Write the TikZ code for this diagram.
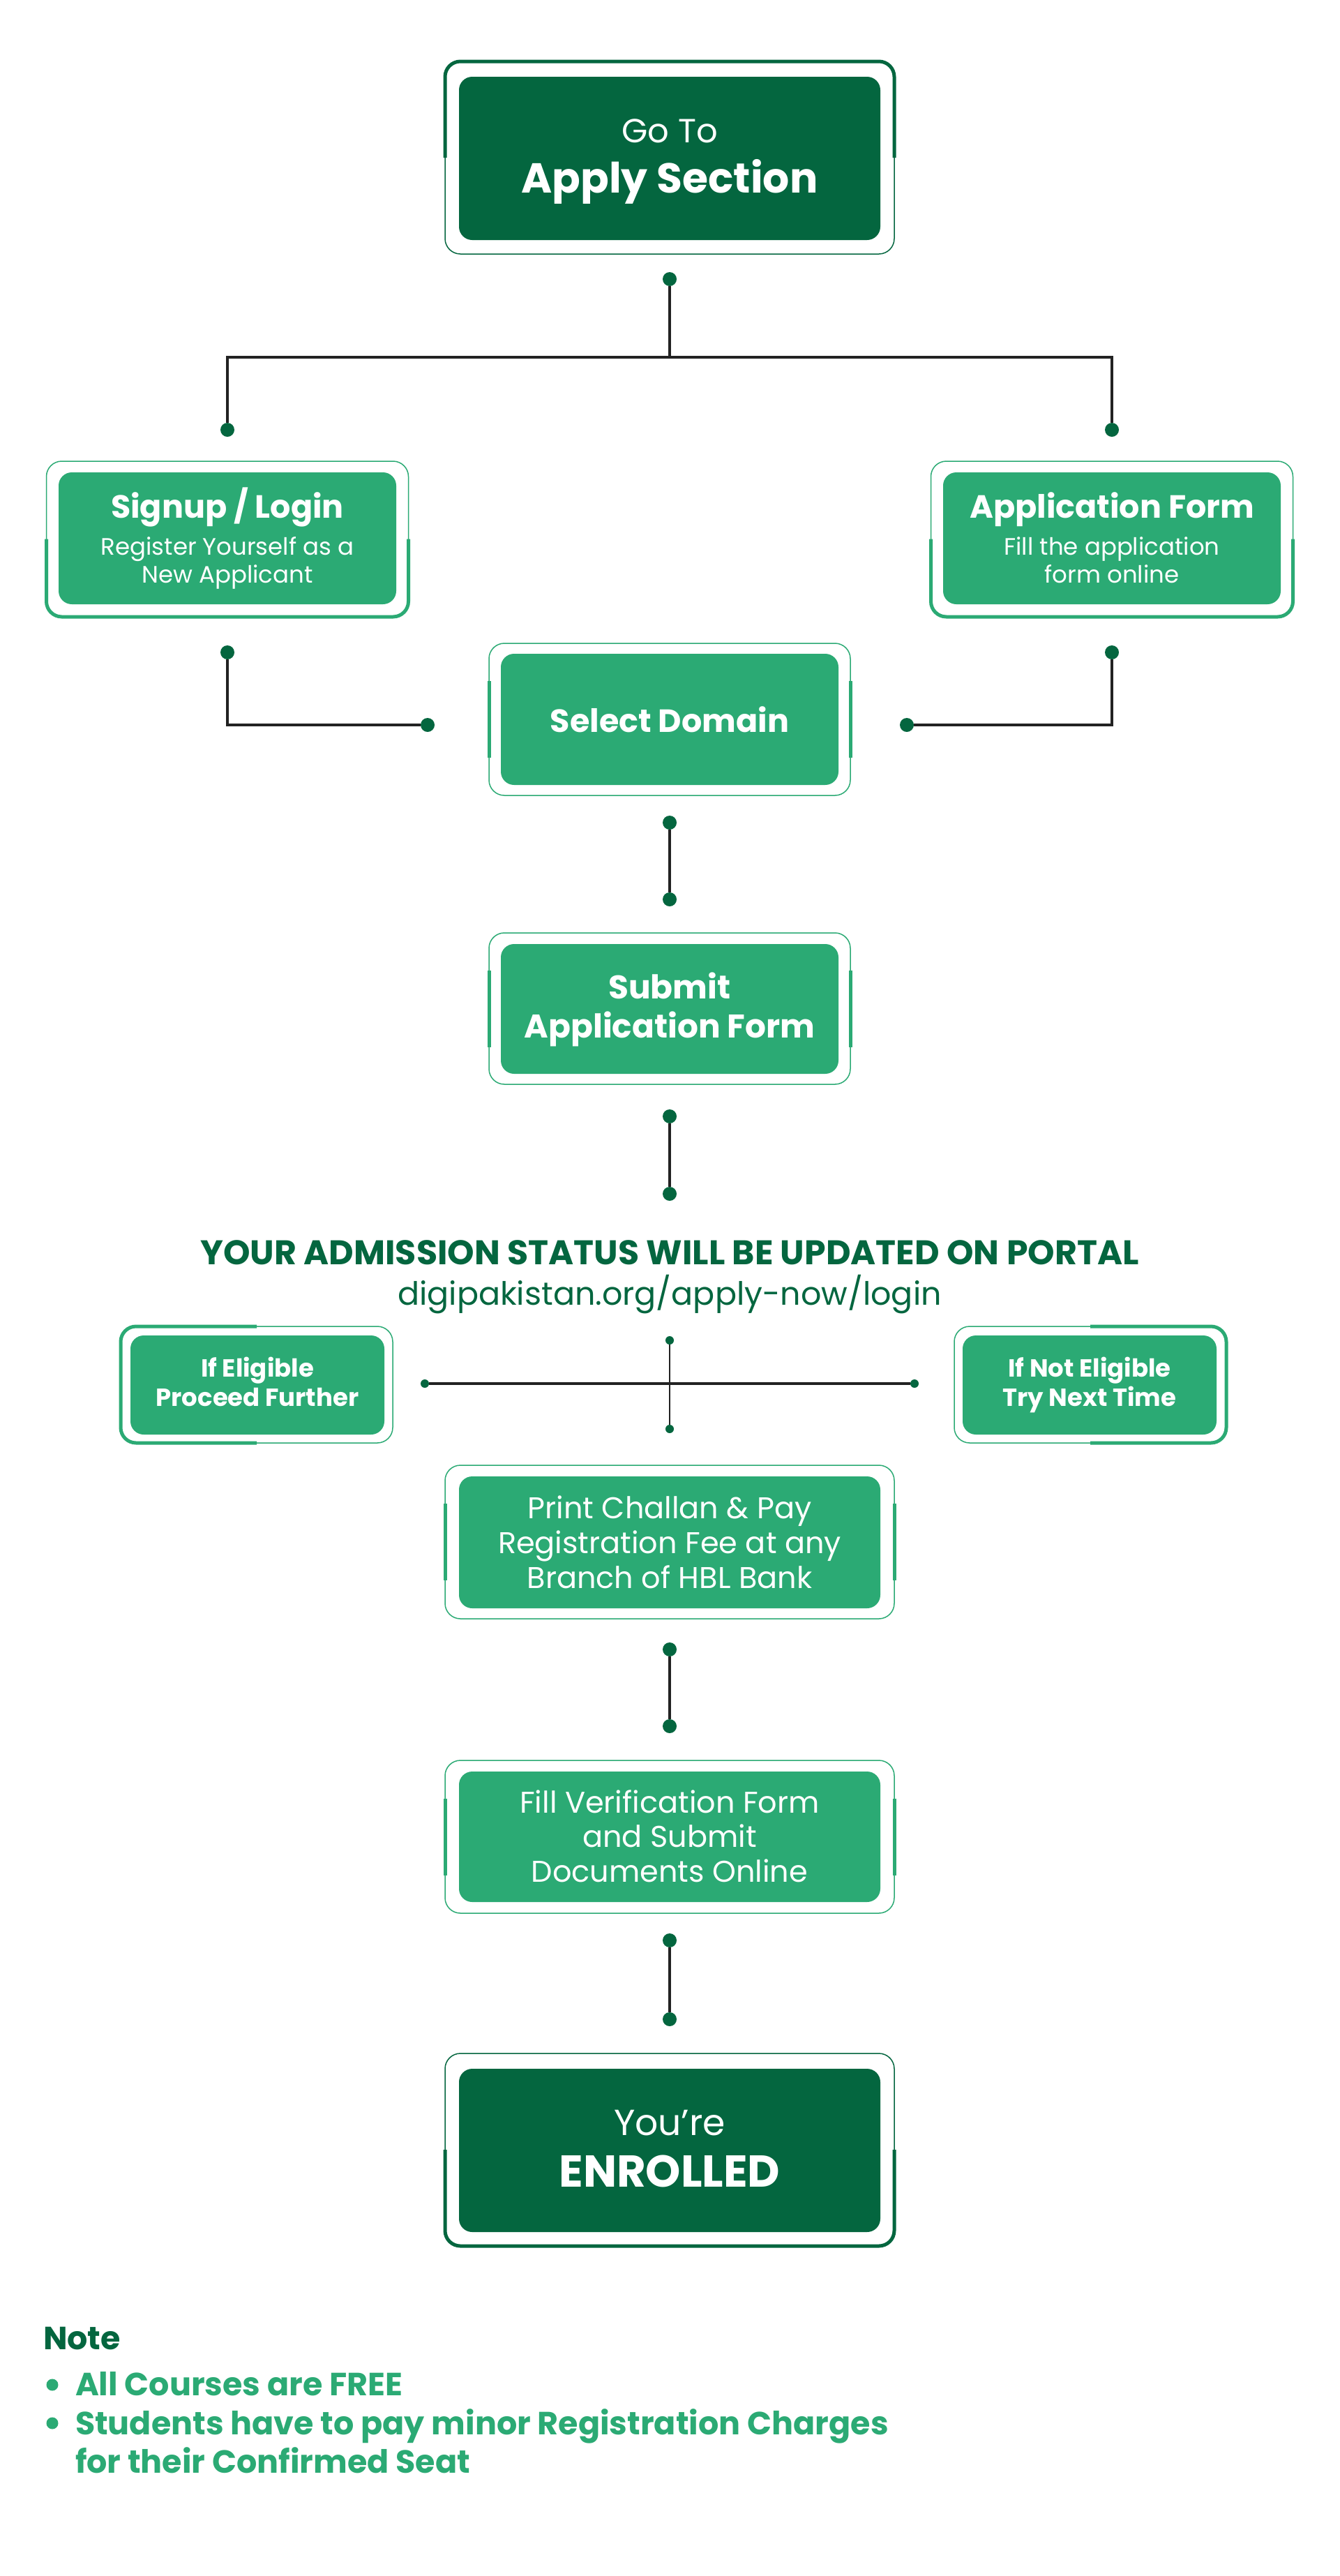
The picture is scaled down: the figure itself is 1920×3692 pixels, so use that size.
\documentclass[tikz,border=0pt]{standalone}
\usepackage{fontspec}
\setmainfont{Poppins}
\definecolor{dkgreen}{HTML}{04663F}
\definecolor{mdgreen}{HTML}{2BAA74}
\definecolor{lnk}{HTML}{222222}
\newcommand{\myfs}[1]{\fontsize{#1}{#1}\selectfont}
\begin{document}
\begin{tikzpicture}[x=1pt,y=-1pt,
  frame/.style={draw=#1, line width=1.5pt, rounded corners=22pt, inner sep=0pt, outer sep=0pt},
  frthick/.style={draw=#1, line width=5pt, rounded corners=22pt},
  accent/.style={draw=mdgreen, line width=5pt},
  panel/.style={fill=#1, rounded corners=19pt, inner sep=0pt, outer sep=0pt},
  dot/.style={circle, fill=dkgreen, minimum size=20pt, inner sep=0pt, outer sep=0pt},
  sdot/.style={circle, fill=dkgreen, minimum size=12pt, inner sep=0pt, outer sep=0pt},
  bdot/.style={circle, fill=mdgreen, minimum size=17pt, inner sep=0pt, outer sep=0pt},
  conn/.style={draw=lnk, line width=3.5pt},
  wt/.style={anchor=base, inner sep=0pt, outer sep=0pt, text=white},
  gt/.style={anchor=base, inner sep=0pt, outer sep=0pt, text=dkgreen},
  nt/.style={anchor=base west, inner sep=0pt, outer sep=0pt, text=mdgreen, font=\bfseries\myfs{46}},
]
\useasboundingbox (0,0) rectangle (1920,3692);
\fill[white] (0,0) rectangle (1920,3692);

% ---------- Go To Apply Section ----------
\node[frame=dkgreen, minimum width=644pt, minimum height=276pt] (applyF) at (960,226) {};
\draw[frthick=dkgreen] (applyF.west) |- (applyF.north) -| (applyF.east);
\node[panel=dkgreen, minimum width=604pt, minimum height=234pt] (apply) at (960,227) {};
\node[wt, font=\myfs{48}] (applyT1) at (960,204) {Go To};
\node[wt, font=\bfseries\myfs{60}] (applyT2) at (960,276) {Apply Section};

% ---------- Signup / Login ----------
\node[frame=mdgreen, minimum width=519pt, minimum height=223pt] (signF) at (326,772.5) {};
\draw[frthick=mdgreen] (signF.west) |- (signF.south) -| (signF.east);
\node[panel=mdgreen, minimum width=484pt, minimum height=189pt] (sign) at (326,771.5) {};
\node[wt, font=\bfseries\myfs{46}] (signT1) at (326,742) {Signup / Login};
\node[wt, font=\myfs{34}] (signT2) at (326,795) {Register Yourself as a};
\node[wt, font=\myfs{34}] (signT3) at (326,835) {New Applicant};

% ---------- Application Form ----------
\node[frame=mdgreen, minimum width=519pt, minimum height=223pt] (appF) at (1594,772.5) {};
\draw[frthick=mdgreen] (appF.west) |- (appF.south) -| (appF.east);
\node[panel=mdgreen, minimum width=484pt, minimum height=189pt] (app) at (1594,771.5) {};
\node[wt, font=\bfseries\myfs{46}] (appT1) at (1594,742) {Application Form};
\node[wt, font=\myfs{34}] (appT2) at (1594,795) {Fill the application};
\node[wt, font=\myfs{34}] (appT3) at (1594,835) {form online};

% ---------- Select Domain ----------
\node[frame=mdgreen, minimum width=518pt, minimum height=218pt] (selF) at (960,1031) {};
\draw[accent] ([yshift=55pt]selF.west) -- ([yshift=-55pt]selF.west);
\draw[accent] ([yshift=55pt]selF.east) -- ([yshift=-55pt]selF.east);
\node[panel=mdgreen, minimum width=484pt, minimum height=188pt] (sel) at (960,1031) {};
\node[wt, font=\bfseries\myfs{46}] (selT) at (960,1049) {Select Domain};

% ---------- Submit Application Form ----------
\node[frame=mdgreen, minimum width=518pt, minimum height=217pt] (subF) at (960,1445.5) {};
\draw[accent] ([yshift=55pt]subF.west) -- ([yshift=-55pt]subF.west);
\draw[accent] ([yshift=55pt]subF.east) -- ([yshift=-55pt]subF.east);
\node[panel=mdgreen, minimum width=484pt, minimum height=186pt] (sub) at (960,1446) {};
\node[wt, font=\bfseries\myfs{47}] (subT1) at (960,1431) {Submit};
\node[wt, font=\bfseries\myfs{47}] (subT2) at (960,1487) {Application Form};

% ---------- Status ----------
\node[gt, font=\bfseries\myfs{49}] (statT) at (960,1812) {YOUR ADMISSION STATUS WILL BE UPDATED ON PORTAL};
\node[gt, font=\myfs{46}] (urlT) at (960,1870) {digipakistan.org/apply-now/login};

% ---------- Eligible boxes ----------
\node[frame=mdgreen, minimum width=390pt, minimum height=167pt] (eligF) at (368,1984.5) {};
\draw[frthick=mdgreen] (eligF.north) -| (eligF.west) |- (eligF.south);
\node[panel=mdgreen, minimum width=364pt, minimum height=142pt] (elig) at (369,1985) {};
\node[wt, font=\bfseries\myfs{35.5}] (eligT1) at (369,1973) {If Eligible};
\node[wt, font=\bfseries\myfs{35.5}] (eligT2) at (369,2015) {Proceed Further};

\node[frame=mdgreen, minimum width=390pt, minimum height=167pt] (neligF) at (1563,1984.5) {};
\draw[frthick=mdgreen] (neligF.north) -| (neligF.east) |- (neligF.south);
\node[panel=mdgreen, minimum width=364pt, minimum height=142pt] (nelig) at (1562,1985) {};
\node[wt, font=\bfseries\myfs{35.5}] (neligT1) at (1562,1973) {If Not Eligible};
\node[wt, font=\bfseries\myfs{35.5}] (neligT2) at (1562,2015) {Try Next Time};

% ---------- Print Challan ----------
\node[frame=mdgreen, minimum width=644pt, minimum height=220pt] (prnF) at (960,2210) {};
\draw[accent] ([yshift=55pt]prnF.west) -- ([yshift=-55pt]prnF.west);
\draw[accent] ([yshift=55pt]prnF.east) -- ([yshift=-55pt]prnF.east);
\node[panel=mdgreen, minimum width=604pt, minimum height=189pt] (prn) at (960,2210.5) {};
\node[wt, font=\myfs{43}] (prnT1) at (960,2176) {Print Challan \& Pay};
\node[wt, font=\myfs{43}] (prnT2) at (960,2226) {Registration Fee at any};
\node[wt, font=\myfs{43}] (prnT3) at (960,2276) {Branch of HBL Bank};

% ---------- Verification ----------
\node[frame=mdgreen, minimum width=644pt, minimum height=219pt] (verF) at (960,2632.5) {};
\draw[accent] ([yshift=55pt]verF.west) -- ([yshift=-55pt]verF.west);
\draw[accent] ([yshift=55pt]verF.east) -- ([yshift=-55pt]verF.east);
\node[panel=mdgreen, minimum width=604pt, minimum height=187pt] (ver) at (960,2632.5) {};
\node[wt, font=\myfs{43}] (verT1) at (960,2598) {Fill Verification Form};
\node[wt, font=\myfs{43}] (verT2) at (960,2647) {and Submit};
\node[wt, font=\myfs{43}] (verT3) at (960,2697) {Documents Online};

% ---------- Enrolled ----------
\node[frame=dkgreen, minimum width=644pt, minimum height=276pt] (enrF) at (960,3081) {};
\draw[frthick=dkgreen] (enrF.west) |- (enrF.south) -| (enrF.east);
\node[panel=dkgreen, minimum width=604pt, minimum height=234pt] (enr) at (960,3082) {};
\node[wt, font=\myfs{52}] (enrT1) at (960,3060) {You’re};
\node[wt, font=\bfseries\myfs{64}] (enrT2) at (960,3134) {ENROLLED};

% ---------- Dots ----------
\node[dot] (dTop) at (960,400) {};
\coordinate (j1) at (960,512);
\node[dot] (dSL) at (326,616) {};
\node[dot] (dAR) at (1594,616) {};
\node[dot] (dSB) at (326,935) {};
\node[dot] (dAB) at (1594,935) {};
\node[dot] (dSelL) at (613,1039) {};
\node[dot] (dSelR) at (1300,1039) {};
\node[dot] (dS1) at (960,1179) {};
\node[dot] (dS2) at (960,1289) {};
\node[dot] (dU1) at (960,1600) {};
\node[dot] (dU2) at (960,1711) {};
\node[sdot] (cL) at (609,1983) {};
\node[sdot] (cR) at (1311,1983) {};
\node[sdot] (cT) at (960,1921) {};
\node[sdot] (cB) at (960,2048) {};
\node[dot] (dP1) at (960,2364) {};
\node[dot] (dP2) at (960,2474) {};
\node[dot] (dV1) at (960,2781) {};
\node[dot] (dV2) at (960,2894) {};

% ---------- Connectors ----------
\draw[conn] (dTop) -- (j1) -| (dSL);
\draw[conn] (j1) -| (dAR);
\draw[conn] (dSB) |- (dSelL);
\draw[conn] (dAB) |- (dSelR);
\draw[conn] (dS1) -- (dS2);
\draw[conn] (dU1) -- (dU2);
\draw[conn] (cL) -- (cR);
\draw[draw=lnk, line width=1.8pt] (cT) -- (cB);
\draw[conn] (dP1) -- (dP2);
\draw[conn] (dV1) -- (dV2);

% ---------- Note ----------
\node[anchor=base west, inner sep=0pt, outer sep=0pt, text=dkgreen, font=\bfseries\myfs{46}] (noteT) at (62,3367) {Note};
\node[bdot] (b1) at (75,3418) {};
\node[bdot] (b2) at (75,3473) {};
\node[nt] (n1) at (108,3433) {All Courses are FREE};
\node[nt] (n2) at (108,3489) {Students have to pay minor Registration Charges};
\node[nt] (n3) at (108,3544) {for their Confirmed Seat};
\end{tikzpicture}
\end{document}
